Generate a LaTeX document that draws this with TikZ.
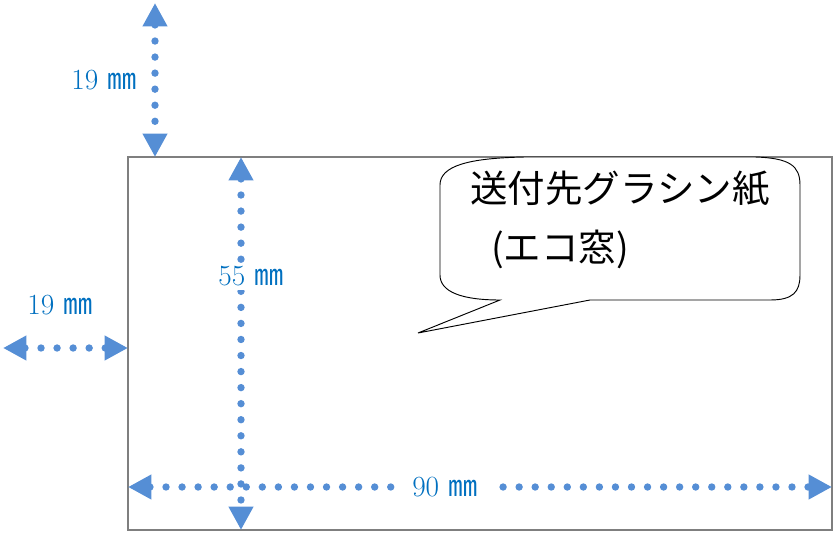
\documentclass[tikz,border=0pt]{standalone}
\usepackage{fontspec}
\newfontfamily\jpfont{Noto Sans CJK JP}
\usetikzlibrary{arrows.meta}

\begin{document}
\begin{tikzpicture}[x=0.03cm, y=-0.03cm,
    dim/.style={draw=dimcolor, line width=6.3pt, line cap=round,
      dash pattern=on 0pt off 13.7pt,
      {Triangle[length=20pt,width=20pt]}-{Triangle[length=20pt,width=20pt]}},
    dimlabel/.style={text=labelcolor, fill=white, inner sep=3pt,
      font=\fontsize{25}{29}\selectfont},
    bubble/.style={draw=black, line width=0.8pt, fill=white}]
  % Define colors
  \definecolor{dimcolor}{RGB}{85,142,213}
  \definecolor{labelcolor}{RGB}{0,112,192}
  \definecolor{edgecolor}{RGB}{127,127,127}

  \useasboundingbox (0,0) rectangle (834,533);

  % Envelope outline
  \node (envelope) [draw=edgecolor, line width=1.8pt, outer sep=0pt,
    minimum width=21.12cm, minimum height=11.19cm, anchor=north west] at (128,157) {};

  % End points of the dimension lines
  \coordinate (topA) at (155,3);
  \coordinate (topB) at (155,157);
  \coordinate (leftA) at (3,348);
  \coordinate (leftB) at (128,348);
  \coordinate (heightA) at (241,157);
  \coordinate (heightB) at (241,530);
  \coordinate (widthA) at (128,487);
  \coordinate (widthB) at (832,487);

  % Margins
  \draw[dim] (topA) -- (topB);
  \node (topLabel) [dimlabel] at (104,80) {19 {\jpfont ㎜}};
  \draw[dim] (leftA) -- (leftB);
  \node (leftLabel) [dimlabel] at (60,305) {19 {\jpfont ㎜}};

  % Window size
  \draw[dim] (heightA) -- node (heightLabel) [dimlabel, pos=0.32, xshift=0.3cm] {55 {\jpfont ㎜}} (heightB);
  \draw[dim] (widthA) -- node (widthLabel) [dimlabel, pos=0.45, inner xsep=12pt] {90 {\jpfont ㎜}} (widthB);

  % Speech bubble
  \coordinate (tip) at (418,333);
  \draw[bubble] (tip) -- (590,300) -- (770,300)
    .. controls (793,300) and (800,292) .. (800,275) -- (800,185)
    .. controls (800,166) and (790,158) .. (755,157) -- (525,157)
    .. controls (468,158) and (440,166) .. (440,185) -- (440,275)
    .. controls (440,292) and (462,300) .. (500,300) -- cycle;
  \node (bubbleText) [align=left, font=\jpfont\fontsize{32}{50}\selectfont] at (620,220)
    {送付先グラシン紙\\\hspace*{0.55em}(エコ窓)};
\end{tikzpicture}
\end{document}
